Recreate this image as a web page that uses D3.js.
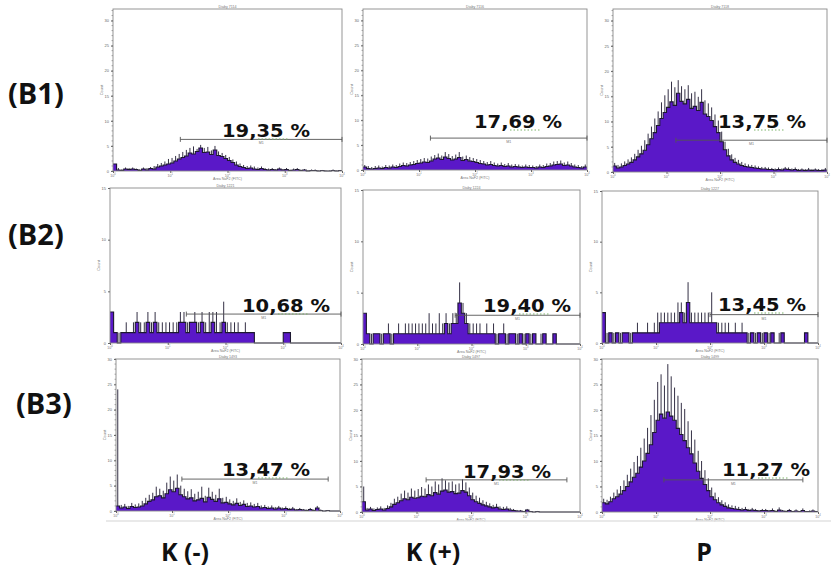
<!DOCTYPE html>
<html><head><meta charset="utf-8">
<script src="https://cdn.jsdelivr.net/npm/d3@7"></script>
<style>body{margin:0;background:#fff}svg{display:block}</style></head>
<body><svg id="c" width="831" height="575"></svg>
<script>
// ---------- data ----------
const rowLabels = ["(B1)", "(B2)", "(B3)"];
const colLabels = ["K (-)", "K (+)", "P"];
const percentLabels = ["19,35 %", "17,69 %", "13,75 %", "10,68 %", "19,40 %", "13,45 %", "13,47 %", "17,93 %", "11,27 %"];
const panelTitles = ["Diaby 7114", "Diaby 7116", "Diaby 7118", "Diaby 1221", "Diaby 1224", "Diaby 1227", "Diaby 1493", "Diaby 1497", "Diaby 1499"];
const xTickValues = [1, 10, 100, 1000, 10000];
const xTickExponents = ["0", "1", "2", "3", "4"];
const yTicksRow1 = [0, 5, 10, 15, 20, 25, 30];
const yTicksRow2 = [0, 5, 10, 15];
const yTicksRow3 = [0, 5, 10, 15, 20, 25, 30];
const yMaxByRow = [32.3, 15, 30];
const xAxisTitle = "Area NaF2 (FITC)";
const yAxisTitle = "Count";
const gateName = "M1";

// counts per bin (filled body) and spike maxima per bin, 16 bins per decade, 10^0 .. 10^4
const countsB1Kneg = [1.4,0.2,0.1,0.4,0.3,0.4,0.3,0.1,0.4,0.2,0.5,0.4,0.8,1.0,1.2,1.4,
  1.6,2.0,2.4,2.7,3.0,3.6,3.4,3.9,4.6,3.7,3.8,3.3,4.2,3.1,2.9,2.5,
  2.1,1.7,1.2,0.9,0.7,0.5,0.6,0.4,0.3,0.5,0.3,0.2,0.3,0.2,0.4,0.2,
  0.3,0.1,0.2,0.3,0.1,0.2,0,0.1,0.1,0,0.1,0,0,0.1,0,0.1];
const peaksB1Kneg = [1.4,0.6,0.4,0.7,0.6,0.7,0.5,0.4,0.7,0.6,0.8,1.0,1.4,1.6,1.9,2.4,
  2.6,3.0,3.4,3.8,4.2,4.6,4.9,4.4,5.2,4.6,4.8,4.1,5.0,3.9,3.6,3.2,
  2.8,2.3,1.9,1.5,1.2,1.0,1.1,0.9,0.7,0.9,0.6,0.5,0.6,0.4,0.7,0.4,
  0.6,0.3,0.5,0.6,0.3,0.4,0.2,0.3,0.3,0.1,0.2,0.1,0.1,0.3,0.1,0.2];
const countsB1Kpos = [0.6,0.3,0.2,0.3,0.4,0.3,0.5,0.4,0.6,0.5,0.7,0.9,0.8,1.0,1.1,1.3,
  1.4,1.6,1.5,1.8,2.2,2.4,2.1,2.6,2.3,2.0,2.2,2.5,1.9,2.1,1.8,1.7,
  1.5,1.3,1.2,1.0,1.1,0.9,0.8,0.9,0.7,0.8,0.6,0.7,0.6,0.5,0.6,0.5,
  0.5,0.4,0.6,0.5,0.7,0.8,1.0,1.1,1.2,0.9,1.0,0.8,0.6,0.5,0.4,0.6];
const peaksB1Kpos = [1.0,0.8,0.6,0.8,0.9,0.7,1.0,0.9,1.1,1.0,1.3,1.5,1.4,1.6,1.8,2.0,
  2.2,2.4,2.3,2.7,3.0,3.3,2.9,3.6,3.2,2.8,3.1,3.6,2.7,2.9,2.6,2.4,
  2.2,2.0,1.8,1.6,1.8,1.5,1.3,1.5,1.2,1.4,1.1,1.2,1.1,0.9,1.1,1.0,
  0.9,0.8,1.1,1.0,1.3,1.4,1.7,1.8,1.9,1.5,1.7,1.4,1.1,1.0,0.8,1.1];
const countsB1P = [1.2,0.8,1.0,1.3,1.6,1.9,2.4,3.0,3.6,4.3,5.4,6.6,7.8,9.2,10.6,11.8,
  12.8,13.9,13.2,15.6,14.0,13.5,14.4,12.6,13.0,12.2,13.8,11.5,11.0,10.2,9.0,7.8,
  6.0,4.4,3.2,2.4,1.9,1.6,1.3,1.1,1.0,0.9,0.8,0.7,0.6,0.6,0.5,0.5,
  0.4,0.5,0.4,0.6,0.5,0.4,0.5,0.3,0.4,0.3,0.4,0.3,0.4,0.3,0.3,0.4];
const peaksB1P = [1.8,1.4,1.7,2.1,2.5,2.9,3.6,4.4,5.2,6.3,7.6,9.0,10.6,12.0,13.8,15.2,
  16.4,17.9,16.8,18.2,17.0,16.4,17.2,15.6,15.9,14.9,16.4,14.2,13.6,12.8,11.4,10.2,
  8.0,6.0,4.6,3.5,2.8,2.4,2.0,1.7,1.5,1.4,1.3,1.1,1.0,1.0,0.9,0.8,
  0.7,0.9,0.7,1.0,0.9,0.7,0.9,0.6,0.7,0.6,0.8,0.6,0.7,0.6,0.6,0.8];
const countsB2Kneg = [3,1,0,1,1,1,1,2,1,1,2,1,2,1,1,1,
  1,1,1,2,2,1,2,2,1,2,1,1,2,1,1,2,
  1,1,1,1,1,1,1,1,0,0,0,0,0,0,0,0,
  1,1,0,0,0,0,0,0,0,0,0,0,0,0,0,0];
const peaksB2Kneg = [3,1,1,1,2,1,2,3,2,2,3,2,3,2,2,2,
  2,2,2,3,3,2,2,3,2,3,2,3,3,3,2,4,
  2,2,2,2,1,2,1,1,0,0,0,0,0,0,0,0,
  1,1,0,0,0,0,0,0,0,0,0,0,0,0,0,0];
const countsB2Kpos = [3,1,0,1,1,0,1,1,0,1,1,1,1,1,1,1,
  1,1,1,1,1,1,1,1,2,1,2,2,4,3,2,1,
  1,1,1,1,1,1,1,0,1,1,0,1,1,0,1,0,
  1,0,1,0,0,1,0,0,1,0,0,0,0,0,0,0];
const peaksB2Kpos = [3,1,1,1,1,1,1,2,1,1,2,1,2,2,2,2,
  2,2,2,3,2,2,3,2,3,2,3,3,6,4,3,2,
  2,2,2,1,2,1,2,1,1,2,1,1,1,1,1,1,
  1,1,1,0,1,1,0,0,1,0,0,0,0,0,0,0];
const countsB2P = [3,0,1,0,1,0,1,1,0,1,1,1,1,1,1,1,
  1,2,2,2,2,2,2,3,2,4,2,2,2,2,2,2,
  2,2,1,1,1,1,1,1,1,1,1,0,1,0,1,0,
  1,0,1,0,0,1,0,0,0,0,0,0,1,0,0,0];
const peaksB2P = [3,1,1,1,1,1,1,1,1,1,2,1,1,2,1,2,
  3,3,3,3,3,3,4,4,3,6,3,3,3,3,3,3,
  5,2,2,2,2,2,1,2,1,2,1,1,1,1,1,1,
  1,1,1,0,1,1,0,0,0,0,0,0,1,0,0,0];
const countsB3Kneg = [1,0.6,0.8,0.5,0.9,0.7,0.8,1.0,1.4,1.9,2.2,2.8,3.0,2.6,3.4,4.2,
  3.8,4.5,3.2,2.8,2.4,2.6,2.0,2.2,2.5,1.8,2.7,2.3,1.9,2.4,1.6,1.7,
  1.4,1.2,1.5,1.1,1.3,0.9,1.0,0.8,0.9,0.6,0.7,0.5,0.6,0.4,0.6,0.4,
  0.5,0.3,0.4,0.2,0.3,0.2,0.1,0.3,0.1,0.6,0.1,0,0.1,0,0,0];
const peaksB3Kneg = [24,1.2,1.4,1.0,1.6,1.3,1.5,2.0,2.6,3.2,3.6,4.8,4.4,4.0,5.6,6.8,
  6.0,7.2,5.0,4.4,3.9,4.3,3.4,3.8,4.8,3.0,4.6,3.8,3.2,4.4,2.6,2.8,
  2.3,2.0,2.5,1.8,2.1,1.6,1.7,1.4,1.6,1.1,1.2,0.9,1.1,0.8,1.0,0.7,
  0.9,0.6,0.8,0.4,0.6,0.4,0.3,0.6,0.3,1.0,0.3,0,0.2,0,0,0];
const countsB3Kpos = [2,0.4,0.6,0.3,0.5,0.6,0.4,0.7,1.0,1.5,1.8,2.2,2.6,2.4,2.9,2.7,
  2.8,3.1,3.0,3.4,3.2,3.8,3.5,4.1,4.3,3.9,4.0,3.6,3.7,4.2,3.9,3.2,
  2.4,2.0,1.7,1.4,1.2,1.0,0.8,0.9,0.6,0.5,0.6,0.4,0.3,0.2,0.2,0.1,
  0.4,0.1,0,0.1,0,0,0,0,0,0,0,0,0,0,0,0];
const peaksB3Kpos = [5,0.8,1.0,0.7,0.9,1.1,0.8,1.3,1.8,2.6,3.0,3.6,4.2,3.8,4.6,4.2,
  4.5,4.9,4.6,5.4,5.0,6.0,5.4,6.6,6.2,5.8,6.0,5.4,5.6,6.4,5.8,4.8,
  3.8,3.2,2.8,2.3,2.0,1.7,1.4,1.6,1.1,1.0,1.1,0.8,0.6,0.4,0.4,0.2,
  0.6,0.2,0,0.2,0,0,0,0,0,0,0,0,0,0,0,0];
const countsB3P = [1.8,1.6,2.0,2.6,3.0,3.5,4.2,5.0,5.9,6.8,7.6,8.8,10.0,11.5,13.2,15.6,
  18.0,19.2,18.4,19.6,18.8,18.0,16.4,15.2,14.0,12.6,11.4,9.6,8.0,6.6,5.4,4.2,
  3.0,2.4,1.8,1.4,1.1,0.8,0.7,0.6,0.5,0.4,0.5,0.3,0.4,0.3,0.2,0.3,
  0.3,0.2,0.3,0.1,0.4,0.2,0.1,0.3,0.1,0.2,0.1,0.3,0.1,0.1,0.2,0.1];
const peaksB3P = [2.6,2.4,3.0,3.8,4.4,5.1,6.2,7.3,8.5,9.8,11.0,12.6,14.4,16.5,19.0,22.0,
  25.5,27.0,24.8,29.0,26.6,24.4,22.8,21.4,20.2,17.8,16.0,14.2,12.0,10.0,8.2,6.6,
  4.8,3.8,2.9,2.3,1.9,1.5,1.3,1.2,1.0,0.8,1.0,0.6,0.8,0.6,0.4,0.6,
  0.6,0.4,0.7,0.3,0.9,0.4,0.3,0.6,0.2,0.5,0.2,0.7,0.2,0.3,0.5,0.2];
const seriesList = [countsB1Kneg, countsB1Kpos, countsB1P, countsB2Kneg, countsB2Kpos, countsB2P, countsB3Kneg, countsB3Kpos, countsB3P];
const peakList = [peaksB1Kneg, peaksB1Kpos, peaksB1P, peaksB2Kneg, peaksB2Kpos, peaksB2P, peaksB3Kneg, peaksB3Kpos, peaksB3P];
// gate [from, to, level]
const gateFrom = [15, 16, 15, 21, 50, 100, 15, 15, 14];
const gateTo = [10000, 10000, 10000, 10000, 10000, 10000, 6150, 5750, 5250];
const gateLevel = [6.3, 6.4, 6.3, 2.8, 2.8, 2.8, 6.3, 6.3, 6.3];

// ---------- layout ----------
const frames = [
  [113,342,9,171],[363,587,9,170],[613,827,9,172],
  [110,341,188,343],[363,580,190,344],[602,818,191,343],
  [116,340,359,511],[362,580,359,512],[602,818,359,512]];
const textPos = [[222,137],[474,128],[718,128],[242,312],[483,312],[718,311],[222,476],[463,478],[722,476]];
const rowLabelPos = [[8,104],[8,245],[16,414]];
const colLabelX = [185,433,704];

const svg = d3.select("#c");
const binsPerDecade = 16;
const FONT = "Arial, Liberation Sans, sans-serif";

seriesList.forEach((counts, k) => {
  const row = Math.floor(k / 3);
  const peaks = peakList[k];
  const [x0, x1, y0, y1] = frames[k];
  const x = d3.scaleLog().domain([1, 10000]).range([x0, x1]);
  const y = d3.scaleLinear().domain([0, yMaxByRow[row]]).range([y1, y0]);
  const g = svg.append("g");

  // histogram body
  const pts = counts.map((c, i) => [Math.pow(10, i / binsPerDecade), c]);
  pts.push([10000, counts[counts.length - 1]]);
  const area = d3.area().curve(d3.curveStepAfter).x(d => x(d[0])).y0(y1).y1(d => y(d[1]));
  const line = d3.line().curve(d3.curveStepAfter).x(d => x(d[0])).y(d => y(d[1]));
  g.append("path").attr("d", area(pts)).attr("fill", "#5a18c8");
  // spikes
  g.append("g").selectAll("line").data(peaks).join("line")
    .attr("x1", (d, i) => x(Math.pow(10, (i + 0.5) / binsPerDecade)))
    .attr("x2", (d, i) => x(Math.pow(10, (i + 0.5) / binsPerDecade)))
    .attr("y1", (d, i) => y(Math.min(counts[i], d)))
    .attr("y2", d => y(d))
    .attr("stroke", "#1d1830").attr("stroke-width", 0.9);
  g.append("path").attr("d", line(pts)).attr("fill", "none").attr("stroke", "#1d1830").attr("stroke-width", 1.1);

  // frame
  g.append("rect").attr("x", x0).attr("y", y0).attr("width", x1 - x0).attr("height", y1 - y0)
    .attr("fill", "none").attr("stroke", "#8a8a8a").attr("stroke-width", 0.9);

  // y axis
  const yt = [yTicksRow1, yTicksRow2, yTicksRow3][row];
  const yAxis = d3.axisLeft(y).tickValues(yt).tickSize(2).tickFormat(d3.format("d"));
  const ya = g.append("g").attr("transform", `translate(${x0},0)`).call(yAxis);
  ya.select(".domain").remove();
  ya.selectAll("line").attr("stroke", "#666");
  ya.selectAll("text").attr("font-size", 4).attr("fill", "#666").attr("font-family", FONT).attr("x", -4);
  if (row !== 1) {
    const minor = d3.range(0, Math.floor(yMaxByRow[row]) + 1);
    g.append("g").selectAll("line").data(minor).join("line")
      .attr("x1", x0 - 1.5).attr("x2", x0).attr("y1", d => y(d)).attr("y2", d => y(d))
      .attr("stroke", "#777").attr("stroke-width", 0.6);
  }
  g.append("text").attr("transform", `translate(${x0 - 10},${(y0 + y1) / 2}) rotate(-90)`)
    .attr("text-anchor", "middle").attr("font-size", 4).attr("fill", "#777")
    .attr("font-family", FONT).text(yAxisTitle);

  // x axis
  const xAxis = d3.axisBottom(x).tickValues(xTickValues).tickSize(2).tickFormat("");
  const xa = g.append("g").attr("transform", `translate(0,${y1})`).call(xAxis);
  xa.select(".domain").remove();
  xa.selectAll("line").attr("stroke", "#666");
  const xl = g.append("g").selectAll("text").data(xTickValues).join("text")
    .attr("x", d => x(d)).attr("y", y1 + 5.5).attr("text-anchor", "middle")
    .attr("font-size", 3.6).attr("fill", "#777").attr("font-family", FONT);
  xl.append("tspan").text("10");
  xl.append("tspan").attr("dy", -1.3).attr("font-size", 2.6).text((d, i) => xTickExponents[i]);
  g.append("text").attr("x", (x0 + x1) / 2).attr("y", y1 + 8.5).attr("text-anchor", "middle")
    .attr("font-size", 3.6).attr("fill", "#777").attr("font-family", FONT).text(xAxisTitle);

  // title
  g.append("text").attr("x", (x0 + x1) / 2).attr("y", y0 - 1.5).attr("text-anchor", "middle")
    .attr("font-size", 3.6).attr("fill", "#777").attr("font-family", FONT).text(panelTitles[k]);

  // gate
  const gy = y(gateLevel[k]);
  const ga = x(gateFrom[k]), gb = x(gateTo[k]);
  g.append("line").attr("x1", ga).attr("x2", gb).attr("y1", gy).attr("y2", gy).attr("stroke", "#555").attr("stroke-width", 0.9);
  [ga, gb].forEach(px => g.append("line").attr("x1", px).attr("x2", px).attr("y1", gy - 2.5).attr("y2", gy + 2.5).attr("stroke", "#555").attr("stroke-width", 0.9));
  g.append("text").attr("x", (ga + gb) / 2).attr("y", gy + 5).attr("text-anchor", "middle")
    .attr("font-size", 3.6).attr("fill", "#777").attr("font-family", FONT).text(gateName);

  // percent label
  const [tx, ty] = textPos[k];
  g.append("line").attr("x1", tx + 36).attr("x2", tx + 66).attr("y1", ty + 2).attr("y2", ty + 2)
    .attr("stroke", "#7cb36b").attr("stroke-width", 1).attr("stroke-dasharray", "1.5,2");
  g.append("text").attr("x", tx).attr("y", ty).attr("font-size", 18).attr("font-weight", "bold")
    .attr("font-family", "DejaVu Sans, sans-serif").attr("fill", "#111")
    .attr("textLength", 88).attr("lengthAdjust", "spacingAndGlyphs").text(percentLabels[k]);
});

// bottom separator line
svg.append("line").attr("x1", 106).attr("x2", 831).attr("y1", 521).attr("y2", 521).attr("stroke", "#e2e2e2").attr("stroke-width", 1.5);

// row labels
svg.selectAll(".rl").data(rowLabels).join("text").attr("class", "rl")
  .attr("x", (d, i) => rowLabelPos[i][0]).attr("y", (d, i) => rowLabelPos[i][1])
  .attr("font-size", 29).attr("font-weight", "bold").attr("font-family", "Open Sans, sans-serif")
  .attr("fill", "#111").text(d => d);

// column labels
svg.selectAll(".cl").data(colLabels).join("text").attr("class", "cl")
  .attr("x", (d, i) => colLabelX[i]).attr("y", 561).attr("text-anchor", "middle")
  .attr("font-size", 25).attr("font-weight", "bold").attr("font-family", "Open Sans, sans-serif")
  .attr("fill", "#111").text(d => d);
</script></body></html>
